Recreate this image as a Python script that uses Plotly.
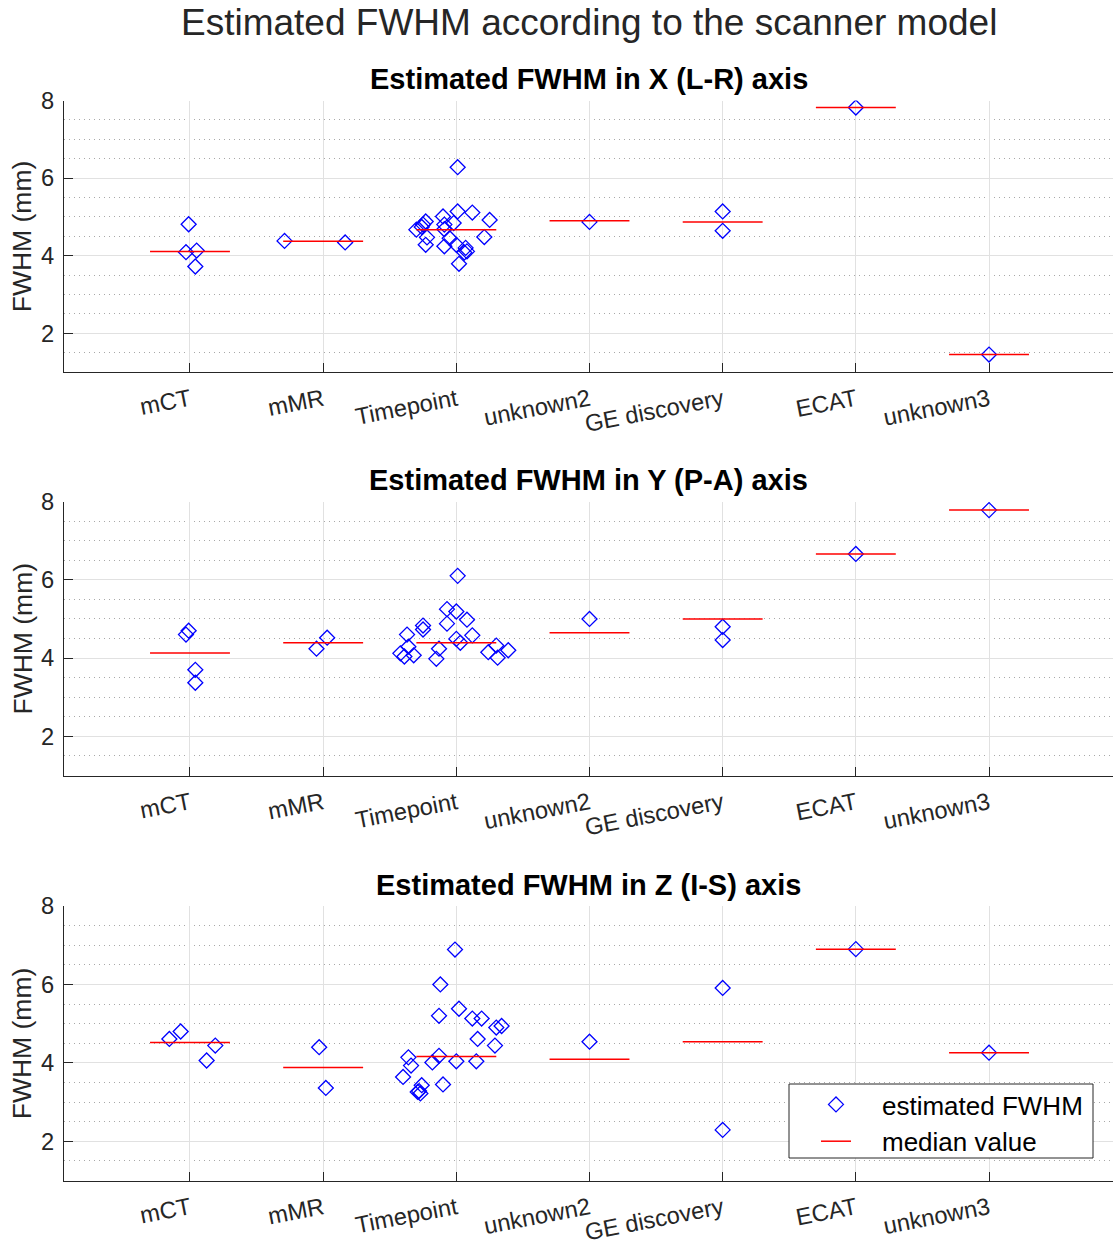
import plotly.graph_objects as go

categories = ["mCT", "mMR", "Timepoint", "unknown2", "GE discovery", "ECAT", "unknown3"]

# ---- X (L-R) axis ----
x_cat = ["mCT"] * 4 + ["mMR"] * 2 + ["Timepoint"] * 22 + ["unknown2"] + ["GE discovery"] * 2 + ["ECAT"] + ["unknown3"]
x_jitter = [-0.01, -0.03, 0.05, 0.04,
            -0.29, 0.165,
            0.01, 0.01, 0.12, -0.10, 0.25, -0.02, -0.09, -0.23, -0.25, -0.26, -0.30,
            -0.22, -0.23, -0.09, -0.05, -0.09, 0.00, 0.21, 0.07, 0.08, 0.06, 0.02,
            0.0,
            0.0, 0.0,
            0.0,
            0.0]
x_fwhm = [4.81, 4.09, 4.13, 3.72,
          4.38, 4.34,
          6.28, 5.14, 5.11, 5.01, 4.92, 4.84, 4.80, 4.88, 4.80, 4.74, 4.67,
          4.47, 4.28, 4.68, 4.45, 4.24, 4.28, 4.48, 4.20, 4.11, 4.08, 3.79,
          4.87,
          5.14, 4.64,
          7.82,
          1.45]
x_median = [4.11, 4.37, 4.67, 4.90, 4.87, 7.82, 1.45]

# ---- Y (P-A) axis ----
y_cat = ["mCT"] * 4 + ["mMR"] * 2 + ["Timepoint"] * 21 + ["unknown2"] + ["GE discovery"] * 2 + ["ECAT"] + ["unknown3"]
y_jitter = [-0.01, -0.03, 0.04, 0.04,
            -0.05, 0.03,
            0.01, -0.07, 0.00, -0.07, 0.08, 0.12, -0.25, -0.25, -0.37, -0.36, -0.42,
            -0.39, -0.32, -0.13, -0.15, 0.00, 0.03, 0.24, 0.30, 0.31, 0.39,
            0.0,
            0.0, 0.0,
            0.0,
            0.0]
y_fwhm = [4.70, 4.60, 3.70, 3.37,
          4.24, 4.52,
          6.10, 5.25, 5.19, 4.88, 4.98, 4.58, 4.83, 4.73, 4.60, 4.29, 4.12,
          4.04, 4.07, 4.24, 3.98, 4.49, 4.39, 4.15, 4.32, 4.01, 4.20,
          5.00,
          4.80, 4.46,
          6.66,
          7.78]
y_median = [4.13, 4.39, 4.39, 4.65, 5.00, 6.66, 7.78]

# ---- Z (I-S) axis ----
z_cat = ["mCT"] * 4 + ["mMR"] * 2 + ["Timepoint"] * 22 + ["unknown2"] + ["GE discovery"] * 2 + ["ECAT"] + ["unknown3"]
z_jitter = [-0.155, -0.07, 0.19, 0.125,
            -0.03, 0.02,
            -0.01, -0.12, 0.02, -0.13, 0.12, 0.19, 0.30, 0.34, 0.16, 0.29, -0.36,
            -0.34, -0.13, -0.18, 0.00, 0.15, -0.40, -0.10, -0.26, -0.28, -0.27, -0.29,
            0.0,
            0.0, 0.0,
            0.0,
            0.0]
z_fwhm = [4.61, 4.80, 4.44, 4.06,
          4.40, 3.36,
          6.89, 6.00, 5.38, 5.20, 5.13, 5.13, 4.90, 4.94, 4.61, 4.44, 4.14,
          3.93, 4.18, 4.01, 4.04, 4.04, 3.64, 3.45, 3.43, 3.28, 3.22, 3.26,
          4.54,
          5.91, 2.29,
          6.90,
          4.26]
z_median = [4.52, 3.88, 4.16, 4.09, 4.54, 6.90, 4.26]

panel_titles = ["Estimated FWHM in X (L-R) axis",
                "Estimated FWHM in Y (P-A) axis",
                "Estimated FWHM in Z (I-S) axis"]
main_title = "Estimated FWHM according to the scanner model"
y_label = "FWHM (mm)"
y_ticks = [2, 4, 6, 8]
median_half_width = 0.3

W, H = 1114, 1248
ML, MR = 64, 1
PW = W - ML - MR
FONT = "Liberation Sans, Arial, Helvetica, sans-serif"
TXT = "#262626"

# pixel layout of the three axes (top, bottom)
panel_px = [(100.5, 372.0), (501.5, 775.5), (906.0, 1180.5)]

panels = [(x_cat, x_jitter, x_fwhm, x_median),
          (y_cat, y_jitter, y_fwhm, y_median),
          (z_cat, z_jitter, z_fwhm, z_median)]


def paper_x(px):
    return (px - ML) / PW


def paper_y(py):
    return 1 - py / H


fig = go.Figure()
annotations = []

for i, (cats, jit, vals, meds) in enumerate(panels):
    n = i + 1
    xa = "x" if n == 1 else f"x{n}"
    ya = "y" if n == 1 else f"y{n}"
    px = [categories.index(c) + 1 + j for c, j in zip(cats, jit)]
    fig.add_trace(go.Scatter(
        x=px, y=vals, mode="markers", xaxis=xa, yaxis=ya,
        name="\u2003estimated FWHM", showlegend=(n == 3),
        marker=dict(symbol="diamond-open", size=11.5, color="#0000ff",
                    line=dict(width=1.3, color="#0000ff")),
    ))
    mx, my = [], []
    for k, m in enumerate(meds):
        c = k + 1
        mx += [c - median_half_width, c + median_half_width, None]
        my += [m, m, None]
    fig.add_trace(go.Scatter(
        x=mx, y=my, mode="lines", xaxis=xa, yaxis=ya,
        name="\u2003median value", showlegend=(n == 3),
        line=dict(color="#ff0000", width=1.5),
    ))

    top, bot = panel_px[i]
    dom = [paper_y(bot), paper_y(top)]
    axis_common = dict(showline=True, linecolor=TXT, linewidth=1, ticks="inside",
                       ticklen=9, tickcolor=TXT, tickwidth=1, zeroline=False,
                       showgrid=True, gridcolor="#e1e1e1", gridwidth=1, automargin=False,
                       tickfont=dict(family=FONT, size=23.7, color=TXT))
    fig.update_layout(**{
        ("xaxis" if n == 1 else f"xaxis{n}"): dict(
            axis_common, domain=[0, 1], range=[0.054, 7.931],
            tickmode="array", tickvals=list(range(1, len(categories) + 1)),
            ticktext=categories, tickangle=-11, anchor=ya,
            ticklabelstandoff=4),
        ("yaxis" if n == 1 else f"yaxis{n}"): dict(
            axis_common, domain=dom, range=[1, 8], tickmode="array",
            tickvals=y_ticks, anchor=xa, ticklabelstandoff=4,
            minor=dict(tickmode="linear", tick0=1, dtick=0.5, showgrid=True,
                       griddash="1px,4px", gridcolor="#a8a8a8", gridwidth=1, ticks="")),
    })
    annotations.append(dict(text=f"<b>{panel_titles[i]}</b>", xref="paper", yref="paper",
                            x=0.5, y=paper_y(top - 21.5), xanchor="center", yanchor="middle",
                            showarrow=False, font=dict(family=FONT, size=29, color="#000000")))
    annotations.append(dict(text=y_label, xref="paper", yref="paper", textangle=-90,
                            x=paper_x(22), y=paper_y((top + bot) / 2),
                            xanchor="center", yanchor="middle", showarrow=False,
                            font=dict(family=FONT, size=26.5, color=TXT)))

annotations.append(dict(text=main_title, xref="paper", yref="paper", x=0.5, y=paper_y(22),
                        xanchor="center", yanchor="middle", showarrow=False,
                        font=dict(family=FONT, size=37, color=TXT)))

legend_box = dict(type="rect", xref="paper", yref="paper", layer="above",
                  x0=paper_x(789), x1=paper_x(1093), y0=paper_y(1158), y1=paper_y(1084),
                  fillcolor="white", line=dict(color=TXT, width=1))

fig.update_layout(
    width=W, height=H, margin=dict(l=ML, r=MR, t=0, b=0, autoexpand=False),
    paper_bgcolor="white", plot_bgcolor="white",
    annotations=annotations, shapes=[legend_box],
    legend=dict(x=paper_x(816), y=paper_y(1081), xanchor="left", yanchor="top",
                bgcolor="rgba(0,0,0,0)", borderwidth=0,
                font=dict(family=FONT, size=26, color="#000000"), itemwidth=30),
)

fig.write_html("out.html", config={"displayModeBar": False},
               post_script="document.body.style.margin='0px';document.body.style.padding='0px';")
